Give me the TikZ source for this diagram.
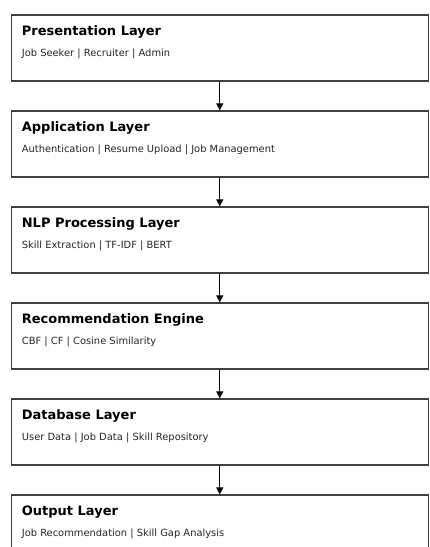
\documentclass[tikz,border=0pt]{standalone}
\usepackage{fontspec}
\setmainfont{DejaVu Sans}
\usetikzlibrary{arrows.meta,positioning}

\tikzset{
  layer/.style={draw=black!75, line width=1.2pt, fill=white,
    minimum width=417pt, minimum height=66pt, inner sep=0pt},
  layertitle/.style={anchor=base west, inner sep=0pt,
    font=\bfseries\fontsize{13}{15}\selectfont},
  layeritems/.style={anchor=base west, inner sep=0pt, text=black!85,
    font=\fontsize{9.9}{11}\selectfont},
  flow/.style={-{Triangle[width=7pt,length=7pt]}, line width=1pt}
}

\begin{document}
\begin{tikzpicture}
    % page frame, last box runs off the bottom
    \clip (0,0) rectangle (430pt,-547pt);
    \useasboundingbox (0,0) rectangle (430pt,-547pt);

    % the six layers, top to bottom
    \node[layer] (pres) at (219.75pt,-48pt) {};
    \node[layer, below=28.8pt of pres] (app) {};
    \node[layer, below=28.8pt of app] (nlp) {};
    \node[layer, below=28.8pt of nlp] (rec) {};
    \node[layer, below=28.8pt of rec] (db) {};
    \node[layer, below=28.8pt of db] (out) {};

    % titles and contents
    \node[layertitle] (presT) at ([shift={(11pt,-21.5pt)}]pres.north west) {Presentation Layer};
    \node[layeritems] (presI) at ([shift={(11pt,-42.5pt)}]pres.north west) {Job Seeker | Recruiter | Admin};

    \node[layertitle] (appT) at ([shift={(11pt,-21.5pt)}]app.north west) {Application Layer};
    \node[layeritems] (appI) at ([shift={(11pt,-42.5pt)}]app.north west) {Authentication | Resume Upload | Job Management};

    \node[layertitle] (nlpT) at ([shift={(11pt,-21.5pt)}]nlp.north west) {NLP Processing Layer};
    \node[layeritems] (nlpI) at ([shift={(11pt,-42.5pt)}]nlp.north west) {Skill Extraction | TF-IDF | BERT};

    \node[layertitle] (recT) at ([shift={(11pt,-21.5pt)}]rec.north west) {Recommendation Engine};
    \node[layeritems] (recI) at ([shift={(11pt,-42.5pt)}]rec.north west) {CBF | CF | Cosine Similarity};

    \node[layertitle] (dbT) at ([shift={(11pt,-21.5pt)}]db.north west) {Database Layer};
    \node[layeritems] (dbI) at ([shift={(11pt,-42.5pt)}]db.north west) {User Data | Job Data | Skill Repository};

    \node[layertitle] (outT) at ([shift={(11pt,-21.5pt)}]out.north west) {Output Layer};
    \node[layeritems] (outI) at ([shift={(11pt,-42.5pt)}]out.north west) {Job Recommendation | Skill Gap Analysis};

    % arrows between layers
    \draw[flow] (pres) -- (app);
    \draw[flow] (app) -- (nlp);
    \draw[flow] (nlp) -- (rec);
    \draw[flow] (rec) -- (db);
    \draw[flow] (db) -- (out);
\end{tikzpicture}
\end{document}
